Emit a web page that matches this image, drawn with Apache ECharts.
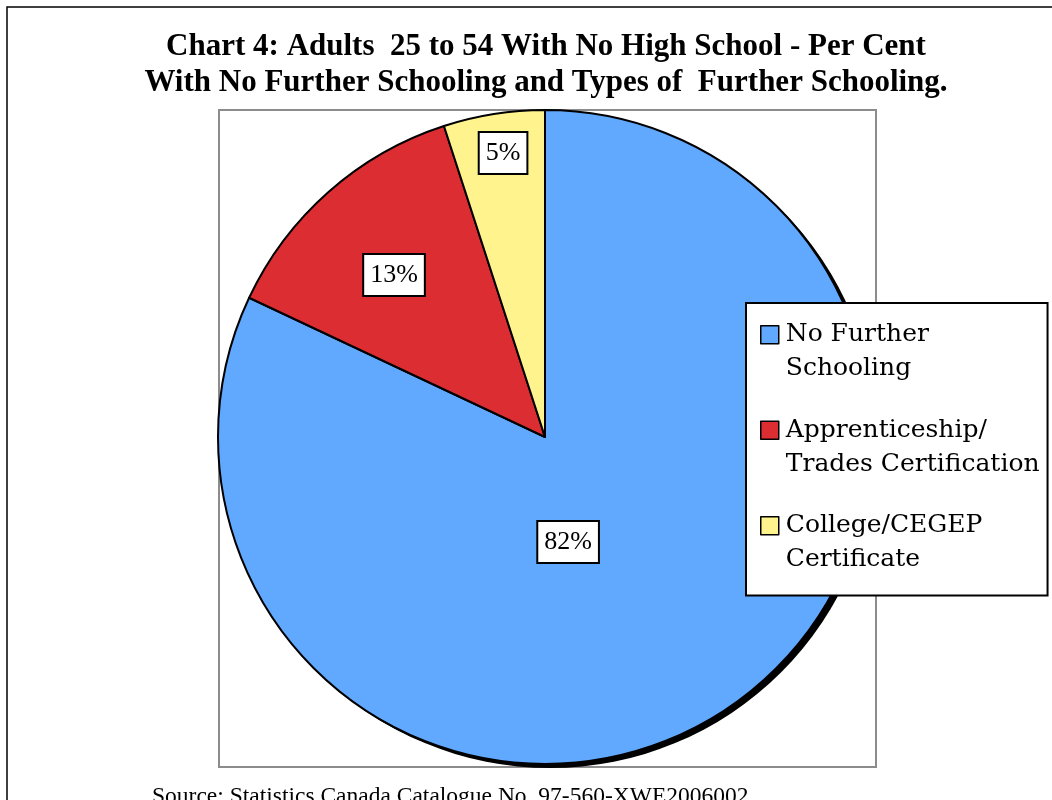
<!DOCTYPE html>
<html>
<head>
<meta charset="utf-8">
<script src="https://cdn.jsdelivr.net/npm/echarts@6/dist/echarts.min.js"></script>
<style>
html,body{margin:0;padding:0;background:#fff;}
#chart{width:1052px;height:800px;}
</style>
</head>
<body>
<div id="chart"></div>
<script>
// ---- data ----
const categories = ['No Further\nSchooling', 'Apprenticeship/\nTrades Certification', 'College/CEGEP\nCertificate'];
const values = [82, 13, 5];
const colors = ['#61A8FF', '#DC2D33', '#FFF38D'];
const titleText = 'Chart 4: Adults  25 to 54 With No High School - Per Cent\nWith No Further Schooling and Types of  Further Schooling.';
const sourceText = 'Source: Statistics Canada Catalogue No. 97-560-XWE2006002';

// ---- layout (not data) ----
const CENTER = [545, 437];
const RADIUS = 327;
const SHADOW_OFFSET = [5, 4];
// label placement: fraction of radius, angle offset (deg) from slice mid-angle
const labelRadiusFrac = [0.329, 0.677, 0.878];
const labelAngleOffset = [-20, 1.6, -0.6];

const total = values.reduce((a, b) => a + b, 0);
const midAngles = [];
let acc = 0;
values.forEach(v => { midAngles.push(90 - (acc + v / 2) / total * 360); acc += v; });

const FONT = 'Liberation Serif';
const FONT2 = 'DejaVu Serif';
const chart = echarts.init(document.getElementById('chart'), null, {renderer: 'canvas'});
chart.setOption({
  animation: false,
  backgroundColor: '#fff',
  title: [{
    text: titleText,
    left: 541,
    textAlign: 'center',
    top: 24,
    textStyle: {fontFamily: FONT, fontWeight: 'bold', fontSize: 31, lineHeight: 36, color: '#000'}
  }, {
    text: sourceText,
    left: 147,
    top: 780,
    textStyle: {fontFamily: FONT, fontWeight: 'normal', fontSize: 23.5, color: '#000'}
  }],
  graphic: [{
    type: 'rect', z: -10,
    shape: {x: 7, y: 7, width: 1200, height: 1000},
    style: {fill: 'none', stroke: '#000', lineWidth: 1.5}
  }, {
    type: 'rect', z: -10,
    shape: {x: 219, y: 110, width: 657, height: 657},
    style: {fill: 'none', stroke: '#8c8c8c', lineWidth: 2}
  }],
  legend: {
    orient: 'vertical',
    left: 746,
    top: 303,
    padding: [14, 8, 18, 14],
    itemGap: 26,
    itemWidth: 18,
    itemHeight: 68,
    icon: 'path://M0,0 M0,8 L18,8 L18,26 L0,26 Z M0,68',
    backgroundColor: '#fff',
    borderColor: '#000',
    borderWidth: 2,
    borderRadius: 0,
    selectedMode: false,
    itemStyle: {borderColor: '#000', borderWidth: 1.5},
    textStyle: {fontFamily: FONT2, fontSize: 25, lineHeight: 34, color: '#000', padding: [0, 0, 0, 2]},
    data: categories
  },
  series: [{
    // pie drop shadow (decoration)
    type: 'pie',
    name: 'shadow',
    silent: true,
    center: [CENTER[0] + SHADOW_OFFSET[0], CENTER[1] + SHADOW_OFFSET[1]],
    radius: RADIUS,
    z: 1,
    label: {show: false},
    labelLine: {show: false},
    emphasis: {disabled: true},
    itemStyle: {color: '#000', borderWidth: 0},
    data: [{name: '__shadow', value: total}]
  }, {
    type: 'pie',
    center: CENTER,
    radius: RADIUS,
    startAngle: 90,
    clockwise: true,
    z: 2,
    avoidLabelOverlap: false,
    emphasis: {disabled: true},
    itemStyle: {borderColor: '#000', borderWidth: 2},
    label: {
      show: true,
      position: 'inside',
      formatter: p => p.value + '%',
      fontFamily: FONT,
      fontSize: 26,
      lineHeight: 30,
      color: '#000',
      backgroundColor: '#fff',
      borderColor: '#000',
      borderWidth: 2,
      padding: [6, 6, 4, 6]
    },
    labelLine: {show: false},
    labelLayout: function (params) {
      const i = params.dataIndex;
      const a = (midAngles[i] + labelAngleOffset[i]) * Math.PI / 180;
      const r = labelRadiusFrac[i] * RADIUS;
      return {x: CENTER[0] + r * Math.cos(a), y: CENTER[1] - r * Math.sin(a)};
    },
    data: categories.map((name, i) => ({name: name, value: values[i], itemStyle: {color: colors[i]}}))
  }]
});
</script>
</body>
</html>
